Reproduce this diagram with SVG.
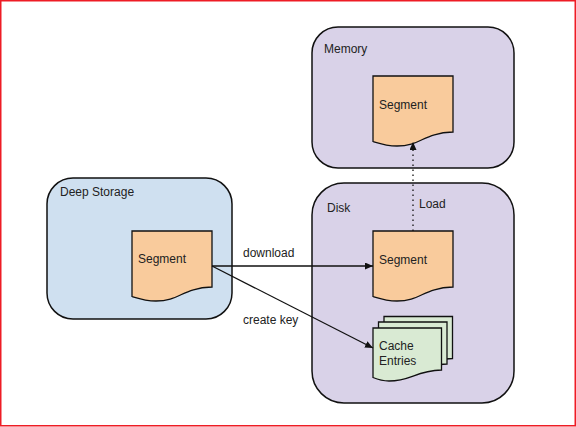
<svg xmlns="http://www.w3.org/2000/svg" width="576" height="427" viewBox="0 0 576 427">
<defs>
<marker id="arrow" markerUnits="userSpaceOnUse" markerWidth="9" markerHeight="8" refX="8" refY="3.5" orient="auto"><path d="M0 0L8 3.5L0 7Z" fill="#111"/></marker>
<path id="doc" d="M0 0H80V56C50 57 48 70 24 70C14 70 8 68 0 65.5Z"/>
<path id="card" d="M0 0H68.5V42C42 43 38 53 16 53C10 53 6 52 0 49.5Z"/>
</defs>
<style>
.box{stroke:#111;stroke-width:1.5}
.mem{fill:#d9d2e8}
.deep{fill:#cfe0f0}
.seg{fill:#f9cb9c;stroke:#111;stroke-width:1.3}
.cache{fill:#d9ead3;stroke:#111;stroke-width:1.3}
.conn{fill:none;stroke:#111;stroke-width:1.3}
text{font-family:"Liberation Sans",Arial,sans-serif;font-size:12px;fill:#222}
</style>
<rect x="0" y="0" width="576" height="427" fill="#fff"/>
<g id="memory"><rect class="box mem" x="312" y="27" width="202" height="141" rx="26"/><text x="324" y="53">Memory</text></g>
<g id="disk"><rect class="box mem" x="312" y="183" width="202" height="220" rx="32"/><text x="327" y="212">Disk</text></g>
<g id="deep-storage"><rect class="box deep" x="47" y="178" width="185" height="141" rx="26"/><text x="60" y="196">Deep Storage</text></g>
<g id="memory-segment"><use href="#doc" x="373" y="76" class="seg"/><text x="379" y="109">Segment</text></g>
<g id="disk-segment"><use href="#doc" x="373" y="231" class="seg"/><text x="379" y="264">Segment</text></g>
<g id="deep-segment"><use href="#doc" x="132" y="231" class="seg"/><text x="138" y="263">Segment</text></g>
<g id="cache-entries">
<use href="#card" x="384" y="316.5" class="cache"/>
<use href="#card" x="378.5" y="322" class="cache"/>
<use href="#card" x="373" y="328" class="cache"/>
<text x="379" y="350">Cache</text><text x="379" y="365">Entries</text></g>
<g id="connectors">
<path class="conn" d="M212 266H373" marker-end="url(#arrow)"/>
<path class="conn" d="M212 266L373 348" marker-end="url(#arrow)"/>
<path class="conn" stroke-dasharray="1.5 3.5" d="M413 231V142" marker-end="url(#arrow)"/>
</g>
<g id="labels"><text x="243" y="257">download</text><text x="243" y="324">create key</text><text x="419" y="208">Load</text></g>
<rect x="0.75" y="0.75" width="574.5" height="425" fill="none" stroke="#ee1c25" stroke-width="1.5"/>
</svg>
